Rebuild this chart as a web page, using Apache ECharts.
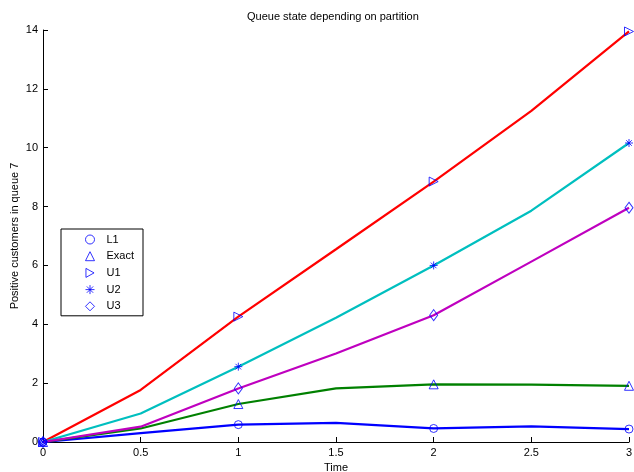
<!DOCTYPE html>
<html>
<head>
<meta charset="utf-8">
<script src="https://cdn.jsdelivr.net/npm/echarts@6/dist/echarts.min.js"></script>
<style>
  html, body { margin: 0; padding: 0; background: #fff; }
  #chart { width: 634px; height: 472px; }
</style>
</head>
<body>
<div id="chart"></div>
<script>
// sample times and the values of each method
const times = [0, 0.5, 1, 1.5, 2, 2.5, 3]
const markerTimes = [0, 1, 2, 3]
const L1 = [0, 0.30, 0.59, 0.65, 0.46, 0.53, 0.44]
const exact = [0, 0.46, 1.29, 1.82, 1.96, 1.95, 1.91]
const U1 = [0, 1.77, 4.26, 6.55, 8.85, 11.25, 13.95]
const U2 = [0, 0.97, 2.56, 4.22, 6.0, 7.86, 10.16]
const U3 = [0, 0.52, 1.82, 3.01, 4.31, 6.13, 7.96]
const xTicks = [0, 0.5, 1, 1.5, 2, 2.5, 3]
const yTicks = [0, 2, 4, 6, 8, 10, 12, 14]

const FONT = 'Liberation Sans, Arial, Helvetica, sans-serif'
const MARK = '#0000ff'
const asterisk = 'path://M5,0L5,10M0,5L10,5M1.5,1.5L8.5,8.5M1.5,8.5L8.5,1.5'
const rightTri = 'path://M0,0L9,5L0,10Z'

const methods = [
  { name: 'L1', data: L1, color: '#0000ff', symbol: 'circle', size: 8 },
  { name: 'Exact', data: exact, color: '#008000', symbol: 'triangle', size: 9 },
  { name: 'U1', data: U1, color: '#ff0000', symbol: rightTri, size: 9 },
  { name: 'U2', data: U2, color: '#00bfbf', symbol: asterisk, size: 8 },
  { name: 'U3', data: U3, color: '#bf00bf', symbol: 'diamond', size: [8, 11] }
]

const series = []
methods.forEach((m) => {
  // 线
  series.push({
    name: m.name + '_line',
    type: 'line',
    data: times.map((t, i) => [t, m.data[i]]),
    showSymbol: false,
    lineStyle: { color: m.color, width: 2.2 },
    z: 2,
    silent: true
  })
})
methods.forEach((m) => {
  // 标记点，只在整数时间上
  series.push({
    name: m.name,
    type: 'scatter',
    data: times
      .map((t, i) => [t, m.data[i]])
      .filter((p) => markerTimes.includes(p[0])),
    symbol: m.symbol,
    symbolSize: m.size,
    itemStyle: {
      color: m.symbol === asterisk ? MARK : 'rgba(0,0,0,0)',
      borderColor: MARK,
      borderWidth: 1
    },
    z: 5
  })
})

const chart = echarts.init(document.getElementById('chart'))
chart.setOption({
  animation: false,
  backgroundColor: '#fff',
  textStyle: { fontFamily: FONT },
  title: {
    text: 'Queue state depending on partition',
    left: 242,
    top: 6,
    textStyle: { fontSize: 11, fontWeight: 'normal', color: '#000', fontFamily: FONT }
  },
  grid: { left: 43, right: 5, top: 30, bottom: 30, outerBoundsMode: 'none', containLabel: false },
  legend: {
    data: methods.map((m) => m.name),
    orient: 'vertical',
    left: 61,
    top: 229,
    padding: [5, 9, 4, 24],
    itemWidth: 9,
    itemHeight: 9,
    itemGap: 5.7,
    backgroundColor: '#fff',
    borderColor: '#000',
    borderWidth: 1,
    itemStyle: { borderWidth: 1 },
    textStyle: { fontSize: 11, color: '#000', fontFamily: FONT, lineHeight: 11, padding: [0, 0, 0, 7] }
  },
  xAxis: {
    type: 'value',
    min: 0,
    max: 3,
    interval: 0.5,
    name: 'Time',
    nameLocation: 'middle',
    nameGap: 20,
    nameMoveOverlap: false,
    nameTextStyle: { fontSize: 11, color: '#000' },
    axisLine: { lineStyle: { color: '#000', width: 1 } },
    axisTick: { inside: true, length: 5, lineStyle: { color: '#000' } },
    axisLabel: {
      fontSize: 11,
      color: '#000',
      margin: 5,
      formatter: (v) => (xTicks.includes(v) ? String(v) : '')
    },
    splitLine: { show: false }
  },
  yAxis: {
    type: 'value',
    min: 0,
    max: 14,
    interval: 2,
    name: 'Positive customers in queue 7',
    nameLocation: 'middle',
    nameGap: 23,
    nameMoveOverlap: false,
    nameTextStyle: { fontSize: 11, color: '#000' },
    axisLine: { show: true, lineStyle: { color: '#000', width: 1 } },
    axisTick: { show: true, inside: true, length: 5, lineStyle: { color: '#000' } },
    axisLabel: {
      fontSize: 11,
      color: '#000',
      margin: 5,
      formatter: (v) => (yTicks.includes(v) ? String(v) : '')
    },
    splitLine: { show: false }
  },
  series: series
})
</script>
</body>
</html>
